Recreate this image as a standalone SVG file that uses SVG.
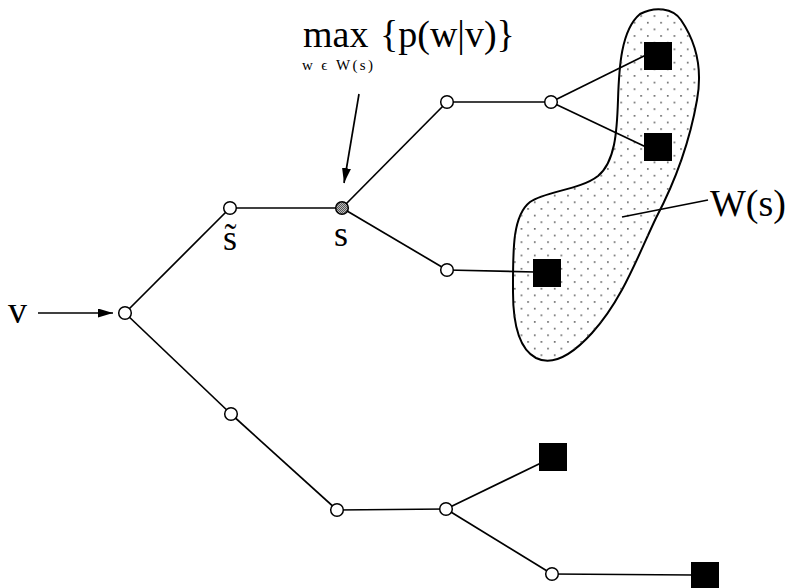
<svg xmlns="http://www.w3.org/2000/svg" width="788" height="588" viewBox="0 0 788 588">
<defs>
<pattern id="dots" patternUnits="userSpaceOnUse" width="13.3" height="13.3">
<rect x="2" y="2" width="1.5" height="1.5" fill="#444"/>
<rect x="8.65" y="8.65" width="1.5" height="1.5" fill="#444"/>
</pattern>
<pattern id="shade" patternUnits="userSpaceOnUse" width="2" height="2">
<rect width="2" height="2" fill="#bbb"/>
<rect width="1" height="1" fill="#555"/>
<rect x="1" y="1" width="1" height="1" fill="#555"/>
</pattern>
<marker id="arr" markerWidth="15" markerHeight="9" refX="15" refY="4.5" orient="auto" markerUnits="userSpaceOnUse">
<path d="M0,0 L15,4.5 L0,9 Z" fill="#000"/>
</marker>
</defs>
<style>
.e{stroke:#000;stroke-width:1.7;fill:none}
.n{fill:#fff;stroke:#000;stroke-width:1.5}
.sq{fill:#000}
.t{font-family:"Times New Roman","Liberation Serif","DejaVu Serif",serif;fill:#000}
</style>
<rect width="788" height="588" fill="#fff"/>
<g id="region">
<path d="M640,14 C655,6 673,8 681,20 C696,42 703,67 697,100 C690,140 676,180 656,218 C637,258 622,300 592,333 C572,355 552,366 536,358 C519,349 513,322 513,292 C513,252 512,216 530,202 C546,191 580,190 598,176 C615,162 617,132 618,100 C619,68 621,30 640,14 Z" fill="#fff" stroke="#000" stroke-width="2"/>
<path d="M640,14 C655,6 673,8 681,20 C696,42 703,67 697,100 C690,140 676,180 656,218 C637,258 622,300 592,333 C572,355 552,366 536,358 C519,349 513,322 513,292 C513,252 512,216 530,202 C546,191 580,190 598,176 C615,162 617,132 618,100 C619,68 621,30 640,14 Z" fill="url(#dots)" stroke="none"/>
</g>
<g id="connectors">
<line class="e" x1="38" y1="313" x2="113" y2="313" marker-end="url(#arr)"/>
<line class="e" x1="359" y1="94" x2="344" y2="183" marker-end="url(#arr)"/>
<line class="e" x1="125" y1="313" x2="230" y2="208"/>
<line class="e" x1="230" y1="208" x2="342" y2="208"/>
<line class="e" x1="342" y1="208" x2="447" y2="102"/>
<line class="e" x1="342" y1="208" x2="447" y2="270"/>
<line class="e" x1="447" y1="102" x2="551" y2="102"/>
<line class="e" x1="551" y1="102" x2="646" y2="55"/>
<line class="e" x1="551" y1="102" x2="646" y2="147"/>
<line class="e" x1="447" y1="270" x2="535" y2="272"/>
<line class="e" x1="125" y1="313" x2="231" y2="414"/>
<line class="e" x1="231" y1="414" x2="337" y2="510"/>
<line class="e" x1="337" y1="510" x2="446" y2="509"/>
<line class="e" x1="446" y1="509" x2="541" y2="463"/>
<line class="e" x1="446" y1="509" x2="552" y2="574"/>
<line class="e" x1="552" y1="574" x2="693" y2="575"/>
<line class="e" x1="622" y1="217" x2="708" y2="200"/>
</g>
<g id="n-v"><circle class="n" cx="125" cy="313" r="6.3"/></g>
<g id="n-stilde"><circle class="n" cx="230" cy="208" r="6.3"/></g>
<g id="n-s"><circle cx="342" cy="208" r="6.3" fill="url(#shade)" stroke="#000" stroke-width="1.5"/></g>
<g id="n-a"><circle class="n" cx="447" cy="102" r="6.3"/></g>
<g id="n-b"><circle class="n" cx="551" cy="102" r="6.3"/></g>
<g id="n-c"><circle class="n" cx="447" cy="270" r="6.3"/></g>
<g id="n-d"><circle class="n" cx="231" cy="414" r="6.3"/></g>
<g id="n-e"><circle class="n" cx="337" cy="510" r="6.3"/></g>
<g id="n-f"><circle class="n" cx="446" cy="509" r="6.3"/></g>
<g id="n-g"><circle class="n" cx="552" cy="574" r="6.3"/></g>
<g id="w1"><rect class="sq" x="644" y="42" width="28" height="28"/></g>
<g id="w2"><rect class="sq" x="644" y="133" width="28" height="28"/></g>
<g id="w3"><rect class="sq" x="533" y="259" width="28" height="28"/></g>
<g id="w4"><rect class="sq" x="539" y="443" width="28" height="28"/></g>
<g id="w5"><rect class="sq" x="691" y="562" width="28" height="28"/></g>
<g id="labels">
<text class="t" x="8" y="323" font-size="38">v</text>
<text class="t" x="230" y="250" font-size="36" text-anchor="middle">s̃</text>
<text class="t" x="341" y="246" font-size="36" text-anchor="middle">s</text>
<text class="t" x="303" y="47" font-size="38">max</text>
<text class="t" x="380" y="47" font-size="38">{p(w|v)}</text>
<text class="t" x="302" y="70" font-size="15" textLength="71" lengthAdjust="spacing">w ϵ W(s)</text>
<text class="t" x="710" y="216" font-size="38">W(s)</text>
</g>
</svg>
